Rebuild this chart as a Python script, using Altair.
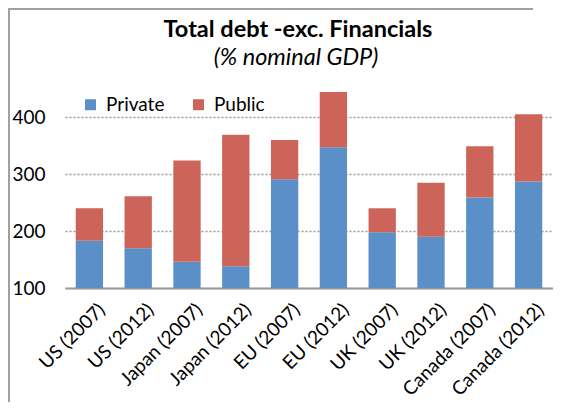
import altair as alt
import pandas as pd

categories = ["US (2007)", "US (2012)", "Japan (2007)", "Japan (2012)", "EU (2007)",
              "EU (2012)", "UK (2007)", "UK (2012)", "Canada (2007)", "Canada (2012)"]
private = [183, 170, 146, 138, 291, 347, 198, 190, 259, 287]
public = [57, 91, 178, 231, 69, 97, 42, 95, 90, 118]
series = ["Private", "Public"]
colors = ["#5B8FC7", "#CC6459"]
title_text = "Total debt -exc. Financials"
subtitle_text = "(% nominal GDP)"

rows = []
for c, p, q in zip(categories, private, public):
    rows.append({"cat": c, "series": "Private", "value": p, "ord": 0})
    rows.append({"cat": c, "series": "Public", "value": q, "ord": 1})
df = pd.DataFrame(rows)

FONT = "Lato"
W, H = 488, 205
PAD = {"left": 57, "top": 75, "right": 0, "bottom": 114}

bars = alt.Chart(df).mark_bar(clip=True).encode(
    x=alt.X("cat:N", sort=categories, title=None,
            scale=alt.Scale(paddingInner=0.44, paddingOuter=0.22),
            axis=alt.Axis(labelAngle=-45, labelFontSize=19, labelColor="#000000",
                          labelFont=FONT, ticks=False, domainColor="#9A9A9A",
                          domainWidth=2, labelPadding=12, labelOffset=6)),
    y=alt.Y("value:Q", stack="zero", title=None,
            scale=alt.Scale(domain=[100, 460], nice=False, zero=False),
            axis=alt.Axis(values=[100, 200, 300, 400], labelFontSize=19, labelFont=FONT,
                          labelColor="#000000", ticks=False, domain=False,
                          gridDash=[2, 2], gridColor="#9A9A9A", gridWidth=1.5,
                          labelPadding=20)),
    color=alt.Color("series:N", scale=alt.Scale(domain=series, range=colors),
                    legend=alt.Legend(title=None, orient="none", legendX=16, legendY=12,
                                      direction="horizontal", symbolType="square",
                                      symbolSize=121, symbolStrokeWidth=0,
                                      labelFontSize=19, labelFont=FONT, labelColor="#000000",
                                      columnPadding=24, labelOffset=6)),
    order=alt.Order("ord:Q"),
)

one = pd.DataFrame({"k": [0]})
top_line = alt.Chart(one).mark_rule(stroke="#A0A0A0", strokeWidth=2).encode(
    x=alt.value(-PAD["left"]), x2=alt.value(W - 20), y=alt.value(-PAD["top"] + 1)
)
left_line = alt.Chart(one).mark_rule(stroke="#A0A0A0", strokeWidth=2).encode(
    x=alt.value(-PAD["left"] + 1), y=alt.value(-PAD["top"]), y2=alt.value(H + PAD["bottom"])
)
title = alt.Chart(one).mark_text(font=FONT, fontSize=23.5, fontWeight="bold",
                                 color="#000000", align="center", baseline="alphabetic").encode(
    x=alt.value(233), y=alt.value(-46), text=alt.value(title_text)
)
subtitle = alt.Chart(one).mark_text(font=FONT, fontSize=23.5, fontStyle="italic",
                                    color="#000000", align="center", baseline="alphabetic").encode(
    x=alt.value(231), y=alt.value(-18), text=alt.value(subtitle_text)
)

chart = alt.layer(top_line, left_line, title, subtitle, bars).properties(
    width=W, height=H,
    autosize=alt.AutoSizeParams(type="none"),
    padding=PAD,
).configure_view(stroke=None)

chart.save("out.html", embed_options={"renderer": "svg", "actions": False})
